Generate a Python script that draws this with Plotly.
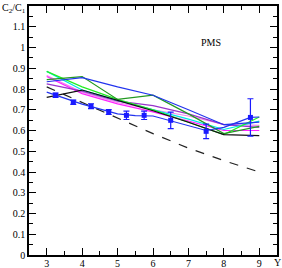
import plotly.graph_objects as go

# theory curves sampled at integer Y
y_nodes = [3, 4, 5, 6, 7, 8, 9]
cyan_vals = [0.885, 0.795, 0.745, 0.700, 0.655, 0.605, 0.645]
lgreen_vals = [0.885, 0.810, 0.750, 0.700, 0.640, 0.580, 0.665]
dgreen_vals = [0.845, 0.860, 0.750, 0.770, 0.680, 0.585, 0.620]
ublue_vals = [0.835, 0.855, 0.810, 0.770, 0.700, 0.628, 0.640]
pink_vals = [0.865, 0.785, 0.735, 0.700, 0.670, 0.630, 0.625]
magenta_vals = [0.860, 0.778, 0.728, 0.690, 0.645, 0.600, 0.600]
purple_vals = [0.825, 0.790, 0.742, 0.720, 0.680, 0.628, 0.615]
black_vals = [0.760, 0.795, 0.745, 0.695, 0.640, 0.580, 0.575]
dashed_vals = [0.810, 0.735, 0.660, 0.585, 0.515, 0.455, 0.400]

# blue curve through data
bcurve_x = [3, 4, 5, 5.5, 6, 7, 7.5, 8, 8.75, 9]
bcurve_y = [0.785, 0.727, 0.680, 0.672, 0.670, 0.625, 0.600, 0.615, 0.663, 0.665]

# data points
data_x = [3.25, 3.75, 4.25, 4.75, 5.25, 5.75, 6.5, 7.5, 8.75]
data_y = [0.770, 0.736, 0.717, 0.689, 0.673, 0.673, 0.649, 0.596, 0.663]
data_err = [0.010, 0.010, 0.012, 0.012, 0.020, 0.020, 0.040, 0.035, 0.090]

x_ticks = [3, 4, 5, 6, 7, 8, 9]
y_ticks = [0, 0.1, 0.2, 0.3, 0.4, 0.5, 0.6, 0.7, 0.8, 0.9, 1, 1.1]
y_labels = ["0", "0.1", "0.2", "0.3", "0.4", "0.5", "0.6", "0.7", "0.8", "0.9", "1", "1.1"]

fig = go.Figure()

def line(x, y, color, dash="solid", width=1.2):
    fig.add_trace(go.Scatter(x=x, y=y, mode="lines",
                             line=dict(color=color, width=width, dash=dash),
                             showlegend=False, hoverinfo="skip"))

line(y_nodes, dashed_vals, "#222222", dash="dash", width=1.2)
line(y_nodes, pink_vals, "#ee88ee")
line(y_nodes, magenta_vals, "#ff22ff")
line(y_nodes, purple_vals, "#9933cc")
line(y_nodes, cyan_vals, "#00e5e5")
line(y_nodes, lgreen_vals, "#22ee22")
line(y_nodes, dgreen_vals, "#229922")
line(y_nodes, black_vals, "#111111")
line(y_nodes, ublue_vals, "#2233ee")
line(bcurve_x, bcurve_y, "#2233ee")

fig.add_trace(go.Scatter(x=data_x, y=data_y, mode="markers",
                         marker=dict(symbol="square", size=5, color="#1a1aff"),
                         error_y=dict(type="data", array=data_err, color="#1a1aff",
                                      thickness=1.2, width=3),
                         showlegend=False, hoverinfo="skip"))

font_family = "Liberation Serif, Times New Roman, serif"

fig.update_layout(
    width=282, height=268,
    margin=dict(l=29, r=5, t=6, b=13),
    paper_bgcolor="white", plot_bgcolor="white",
    font=dict(family=font_family, size=10, color="black"),
    xaxis=dict(range=[2.5, 9.5], tickvals=x_ticks, ticks="inside", ticklen=7,
               tickwidth=1.2, tickcolor="black", showgrid=False, zeroline=False,
               showline=True, linecolor="black", linewidth=1.5, mirror="allticks",
               automargin=False, ticklabelstandoff=-2,
               tickfont=dict(family=font_family, size=10),
               minor=dict(dtick=0.5, tick0=2.5, ticks="inside", ticklen=4,
                          tickcolor="black", tickwidth=1, showgrid=False)),
    yaxis=dict(range=[0, 1.2], tickvals=y_ticks, ticktext=y_labels, ticks="inside",
               ticklen=7, tickwidth=1.2, tickcolor="black", showgrid=False,
               zeroline=False, showline=True, linecolor="black", linewidth=1.5,
               mirror="allticks", automargin=False,
               tickfont=dict(family=font_family, size=10),
               minor=dict(dtick=0.05, tick0=0, ticks="inside", ticklen=4,
                          tickcolor="black", tickwidth=1, showgrid=False)),
    annotations=[
        dict(text="PMS", x=7.63, y=1.024, xref="x", yref="y", showarrow=False,
             font=dict(family=font_family, size=10)),
        dict(text="C<sub>2</sub>/C<sub>1</sub>", x=0, y=1.0, xref="paper", yref="paper",
             xshift=-29, yshift=-2, xanchor="left", yanchor="middle", showarrow=False,
             font=dict(family=font_family, size=10)),
        dict(text="Y", x=1.0, y=0, xref="paper", yref="paper", xanchor="center",
             yanchor="middle", yshift=-7, showarrow=False,
             font=dict(family=font_family, size=10)),
    ],
)

fig.write_html("out.html", config={"displayModeBar": False},
               post_script="document.body.style.margin='0';document.body.style.overflow='hidden';")
